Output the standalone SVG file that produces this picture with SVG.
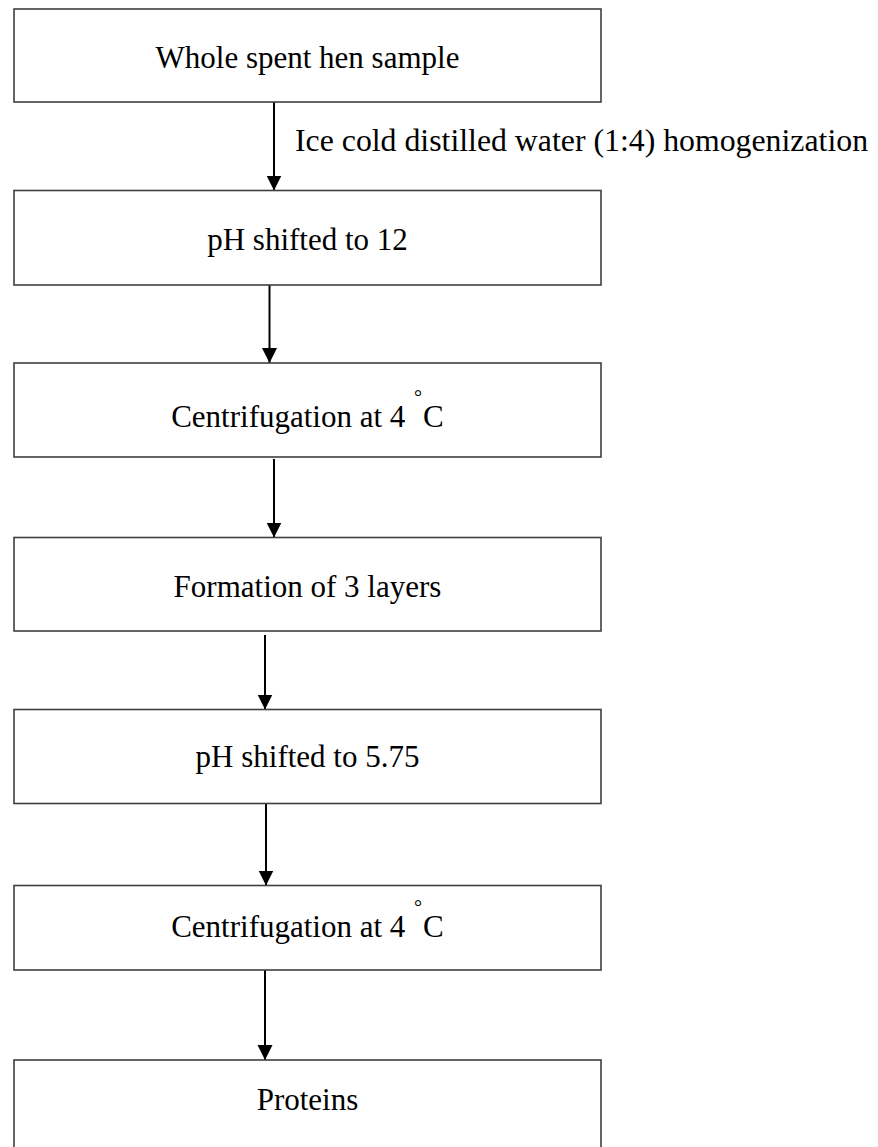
<svg xmlns="http://www.w3.org/2000/svg" width="878" height="1147" viewBox="0 0 878 1147">
  <style>
    .box { fill: #ffffff; stroke: #3f3f3f; stroke-width: 1.6; }
    text { font-family: 'Liberation Serif', 'Times New Roman', serif; font-size: 31px; fill: #000000; }
    .mid { text-anchor: middle; }
    .note { font-size: 31.8px; }
    .deg { font-size: 20px; }
    .conn { stroke: #000000; stroke-width: 2; fill: none; }
  </style>
  <defs>
    <marker id="head" markerUnits="userSpaceOnUse" markerWidth="16" markerHeight="16" refX="15" refY="7.5" orient="auto">
      <path d="M0,0 L15,7.5 L0,15 Z" fill="#000000"/>
    </marker>
  </defs>
  <rect width="878" height="1147" fill="#ffffff"/>

  <!-- vertical flow arrows between the process steps -->
  <g id="connectors">
    <line class="conn" x1="274" y1="102" x2="274" y2="190.5" marker-end="url(#head)"/>
    <line class="conn" x1="269.5" y1="285" x2="269.5" y2="363" marker-end="url(#head)"/>
    <line class="conn" x1="274" y1="459" x2="274" y2="537.5" marker-end="url(#head)"/>
    <line class="conn" x1="265" y1="635" x2="265" y2="709.5" marker-end="url(#head)"/>
    <line class="conn" x1="266" y1="803.5" x2="266" y2="885.5" marker-end="url(#head)"/>
    <line class="conn" x1="265" y1="970" x2="265" y2="1060" marker-end="url(#head)"/>
    <text class="note" x="295" y="151">Ice cold distilled water (1:4) homogenization</text>
  </g>

  <g id="n1">
    <rect class="box" x="14" y="9" width="587" height="93"/>
    <text class="mid" x="307.5" y="68">Whole spent hen sample</text>
  </g>
  <g id="n2">
    <rect class="box" x="14" y="190.5" width="587" height="94.5"/>
    <text class="mid" x="307.5" y="250">pH shifted to 12</text>
  </g>
  <g id="n3">
    <rect class="box" x="14" y="363" width="587" height="94"/>
    <text class="mid" x="307.5" y="427">Centrifugation at 4 <tspan class="deg" dx="1" dy="-23">°</tspan><tspan dx="1" dy="23">C</tspan></text>
  </g>
  <g id="n4">
    <rect class="box" x="14" y="537.5" width="587" height="93.5"/>
    <text class="mid" x="307.5" y="596.5">Formation of 3 layers</text>
  </g>
  <g id="n5">
    <rect class="box" x="14" y="709.5" width="587" height="94"/>
    <text class="mid" x="307.5" y="767">pH shifted to 5.75</text>
  </g>
  <g id="n6">
    <rect class="box" x="14" y="885.5" width="587" height="84.5"/>
    <text class="mid" x="307.5" y="937">Centrifugation at 4 <tspan class="deg" dx="1" dy="-23">°</tspan><tspan dx="1" dy="23">C</tspan></text>
  </g>
  <g id="n7">
    <rect class="box" x="14" y="1060" width="587" height="100"/>
    <text class="mid" x="307.5" y="1110">Proteins</text>
  </g>
</svg>
